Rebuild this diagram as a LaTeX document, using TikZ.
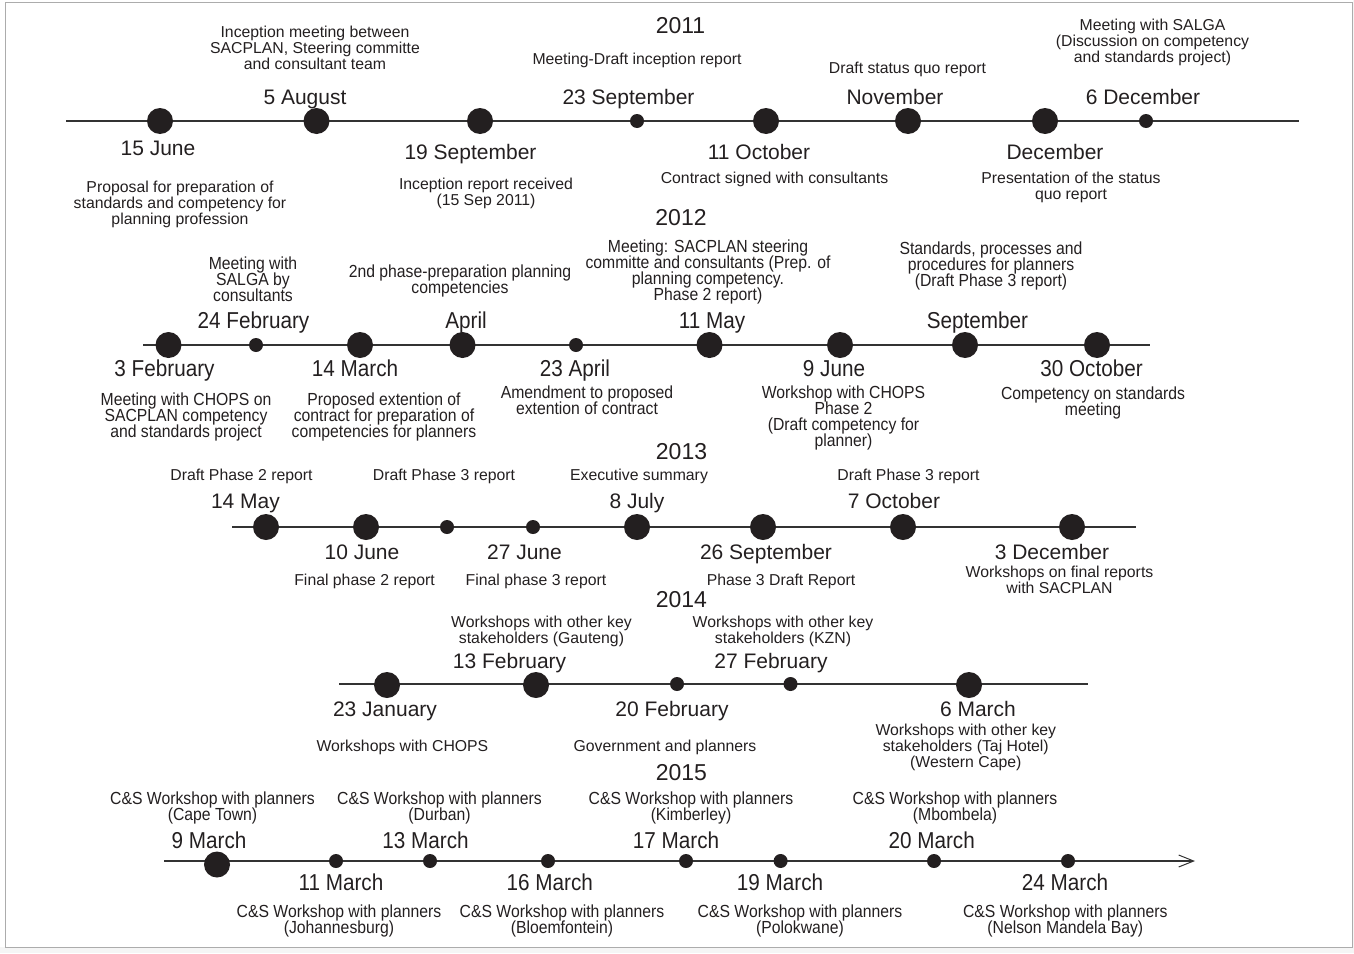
\documentclass[tikz,border=0pt]{standalone}
\usepackage{fontspec}
\setmainfont{Liberation Sans}
\newfontfamily\narrowfont{Liberation Sans}[FakeStretch=0.9]
\usetikzlibrary{arrows.meta}
\definecolor{ink}{HTML}{231F20}
\definecolor{linec}{HTML}{333333}
\newcommand\sst{\rule[-0.214em]{0pt}{1.144em}}
\newcommand\NL{\sst\\}
\tikzset{
 lbl/.style={inner sep=0pt, align=center, text=ink, execute at begin node=\sst, execute at end node=\sst},
 small/.style={lbl, font=\fontsize{15.8}{16}\selectfont},
 nsmall/.style={lbl, font=\narrowfont\fontsize{17.5}{16}\selectfont},
 date/.style={lbl, font=\fontsize{21}{24}\selectfont},
 ndate/.style={lbl, font=\narrowfont\fontsize{23}{26}\selectfont},
 year/.style={lbl, font=\fontsize{23}{26}\selectfont},
 bigdot/.style={circle, fill=ink, minimum size=26pt, inner sep=0pt},
 smalldot/.style={circle, fill=ink, minimum size=14pt, inner sep=0pt},
 tline/.style={draw=linec, line width=1.2pt},
}
\lineskiplimit=-100pt
\lineskip=0pt
\begin{document}
\begin{tikzpicture}[x=1pt,y=-1pt]
\useasboundingbox (0,0) rectangle (1354,953);
% frame
\fill[gray!8] (0,947) rectangle (1354,953);
\fill[gray!8] (1352.5,0) rectangle (1354,953);
\draw[gray!65, line width=1pt] (5,2.5) rectangle (1352.5,947);

% ---------------- 2011 ----------------
\coordinate (r1s) at (66,121); \coordinate (r1e) at (1299,121);
\draw[tline] (r1s) -- (r1e);
\node[bigdot] (jun15) at (160,121) {};
\node[bigdot] (aug5) at (316.5,121) {};
\node[bigdot] (sep19) at (480,121) {};
\node[smalldot] (sep23) at (637,121) {};
\node[bigdot] (oct11) at (766,121) {};
\node[bigdot] (nov) at (908,121) {};
\node[bigdot] (dec) at (1045,121) {};
\node[smalldot] (dec6) at (1146,121) {};
\node[year] (y2011) at (680.5,25.3) {2011};
\node[date] (ljun15) at (158,148) {15 June};
\node[date] (laug5) at (305,97) {5 August};
\node[date] (lsep19) at (470.5,151.5) {19 September};
\node[date] (lsep23) at (628.5,97) {23 September};
\node[date] (loct11) at (759,151.5) {11 October};
\node[date] (lnov) at (895,97) {November};
\node[date] (ldec) at (1055,151.5) {December};
\node[date] (ldec6) at (1143,97) {6 December};
\node[small] (taug5) at (315,47.7) {Inception meeting between\NL SACPLAN, Steering committe\NL and consultant team};
\node[small] (tsep23) at (637,59.3) {Meeting-Draft inception report};
\node[small] (tnov) at (907.5,67.4) {Draft status quo report};
\node[small] (tdec6) at (1152.5,40.4) {Meeting with SALGA\NL (Discussion on competency\NL and standards project)};
\node[small] (tjun15) at (180,203) {Proposal for preparation of\NL standards and competency for\NL planning profession};
\node[small] (tsep19) at (486,192) {Inception report received\NL (15 Sep 2011)};
\node[small] (toct11) at (774.5,177.4) {Contract signed with consultants};
\node[small] (tdec) at (1071,186) {Presentation of the status\NL quo report};

% ---------------- 2012 ----------------
\coordinate (r2s) at (143,345); \coordinate (r2e) at (1150,345);
\draw[tline] (r2s) -- (r2e);
\node[bigdot] (feb3) at (168.5,345) {};
\node[smalldot] (feb24) at (256,345) {};
\node[bigdot] (mar14) at (360,345) {};
\node[bigdot] (apr) at (462.5,345) {};
\node[smalldot] (apr23) at (576,345) {};
\node[bigdot] (may11) at (709.5,345) {};
\node[bigdot] (jun9) at (840,345) {};
\node[bigdot] (sep) at (965,345) {};
\node[bigdot] (oct30) at (1097,345) {};
\node[year] (y2012) at (681,217) {2012};
\node[ndate] (lfeb24) at (253.5,320) {24 February};
\node[ndate] (lapr) at (466,320) {April};
\node[ndate] (lmay11) at (712,320) {11 May};
\node[ndate] (lsep) at (977.5,320) {September};
\node[ndate] (lfeb3) at (164.5,368) {3 February};
\node[ndate] (lmar14) at (355,368) {14 March};
\node[ndate] (lapr23) at (575,368) {23 April};
\node[ndate] (ljun9) at (834,368) {9 June};
\node[ndate] (loct30) at (1091.5,368) {30 October};
\node[nsmall] (tfeb24) at (253,279) {Meeting with\NL SALGA by\NL consultants};
\node[nsmall] (tapr) at (460,279) {2nd phase-preparation planning\NL competencies};
\node[nsmall] (tmay11) at (708,270) {Meeting: SACPLAN steering\NL committe and consultants (Prep. of\NL planning competency.\NL Phase 2 report)};
\node[nsmall] (tsep) at (991,264) {Standards, processes and\NL procedures for planners\NL (Draft Phase 3 report)};
\node[nsmall] (tfeb3) at (186,415) {Meeting with CHOPS on\NL SACPLAN competency\NL and standards project};
\node[nsmall] (tmar14) at (384,415) {Proposed extention of\NL contract for preparation of\NL competencies for planners};
\node[nsmall] (tapr23) at (587,400.5) {Amendment to proposed\NL extention of contract};
\node[nsmall] (tjun9) at (843.5,416) {Workshop with CHOPS\NL Phase 2\NL (Draft competency for\NL planner)};
\node[nsmall] (toct30) at (1093,401) {Competency on standards\NL meeting};

% ---------------- 2013 ----------------
\coordinate (r3s) at (232,527); \coordinate (r3e) at (1136,527);
\draw[tline] (r3s) -- (r3e);
\node[bigdot] (may14) at (266,527) {};
\node[bigdot] (jun10) at (366,527) {};
\node[smalldot] (dp3a) at (447,527) {};
\node[smalldot] (jun27) at (533,527) {};
\node[bigdot] (jul8) at (637,527) {};
\node[bigdot] (sep26) at (763,527) {};
\node[bigdot] (oct7) at (903,527) {};
\node[bigdot] (dec3) at (1072,527) {};
\node[year] (y2013) at (681.5,451) {2013};
\node[small] (tmay14) at (241.5,475) {Draft Phase 2 report};
\node[small] (tdp3a) at (444,475) {Draft Phase 3 report};
\node[small] (tjul8) at (639,475) {Executive summary};
\node[small] (toct7) at (908.5,475) {Draft Phase 3 report};
\node[date] (lmay14) at (245.5,501) {14 May};
\node[date] (ljul8) at (637,501) {8 July};
\node[date] (loct7) at (894,501) {7 October};
\node[date] (ljun10) at (362,552) {10 June};
\node[date] (ljun27) at (524.5,552) {27 June};
\node[date] (lsep26) at (766,552) {26 September};
\node[date] (ldec3) at (1052,552) {3 December};
\node[small] (tjun10) at (364.6,580) {Final phase 2 report};
\node[small] (tjun27) at (536,580) {Final phase 3 report};
\node[small] (tsep26) at (781,580) {Phase 3 Draft Report};
\node[small] (tdec3) at (1059.5,580) {Workshops on final reports\NL with SACPLAN};

% ---------------- 2014 ----------------
\coordinate (r4s) at (339,684); \coordinate (r4e) at (1088,684);
\draw[tline] (r4s) -- (r4e);
\node[bigdot] (jan23) at (387,685) {};
\node[bigdot] (feb13) at (536,685) {};
\node[smalldot] (feb20) at (677,684) {};
\node[smalldot] (feb27) at (790.5,684) {};
\node[bigdot] (mar6) at (969,685) {};
\node[year] (y2014) at (681.4,599) {2014};
\node[small] (tfeb13) at (541.5,630) {Workshops with other key\NL stakeholders (Gauteng)};
\node[small] (tfeb27) at (783,630) {Workshops with other key\NL stakeholders (KZN)};
\node[date] (lfeb13) at (509.6,661) {13 February};
\node[date] (lfeb27) at (771,661) {27 February};
\node[date] (ljan23) at (385,709) {23 January};
\node[date] (lfeb20) at (672,709) {20 February};
\node[date] (lmar6) at (978,709) {6 March};
\node[small] (tjan23) at (402.4,746) {Workshops with CHOPS};
\node[small] (tfeb20) at (665,746) {Government and planners};
\node[small] (tmar6) at (965.8,746) {Workshops with other key\NL stakeholders (Taj Hotel)\NL (Western Cape)};

% ---------------- 2015 ----------------
\coordinate (r5s) at (164,861); \coordinate (r5e) at (1195,861);
\draw[tline, -{Straight Barb[length=15pt, width=12pt, line width=1pt]}] (r5s) -- (r5e);
\node[bigdot] (mar9) at (217,864.5) {};
\node[smalldot] (mar11) at (336,861) {};
\node[smalldot] (mar13) at (430,861) {};
\node[smalldot] (mar16) at (548,861) {};
\node[smalldot] (mar17) at (686,861) {};
\node[smalldot] (mar19) at (780.6,861) {};
\node[smalldot] (mar20) at (934,861) {};
\node[smalldot] (mar24) at (1068,861) {};
\node[year] (y2015) at (681.4,772) {2015};
\node[nsmall] (tmar9) at (212.5,806) {C\&S Workshop with planners\NL (Cape Town)};
\node[nsmall] (tmar13) at (439.5,806) {C\&S Workshop with planners\NL (Durban)};
\node[nsmall] (tmar17) at (691,806) {C\&S Workshop with planners\NL (Kimberley)};
\node[nsmall] (tmar20) at (955,806) {C\&S Workshop with planners\NL (Mbombela)};
\node[ndate] (lmar9) at (209,840) {9 March};
\node[ndate] (lmar13) at (425.6,840) {13 March};
\node[ndate] (lmar17) at (676,840) {17 March};
\node[ndate] (lmar20) at (931.7,840) {20 March};
\node[ndate] (lmar11) at (341,882) {11 March};
\node[ndate] (lmar16) at (549.8,882) {16 March};
\node[ndate] (lmar19) at (780,882) {19 March};
\node[ndate] (lmar24) at (1065,882) {24 March};
\node[nsmall] (tmar11) at (339,919) {C\&S Workshop with planners\NL (Johannesburg)};
\node[nsmall] (tmar16) at (562,919) {C\&S Workshop with planners\NL (Bloemfontein)};
\node[nsmall] (tmar19) at (800,919) {C\&S Workshop with planners\NL (Polokwane)};
\node[nsmall] (tmar24) at (1065.3,919) {C\&S Workshop with planners\NL (Nelson Mandela Bay)};
\end{tikzpicture}
\end{document}
